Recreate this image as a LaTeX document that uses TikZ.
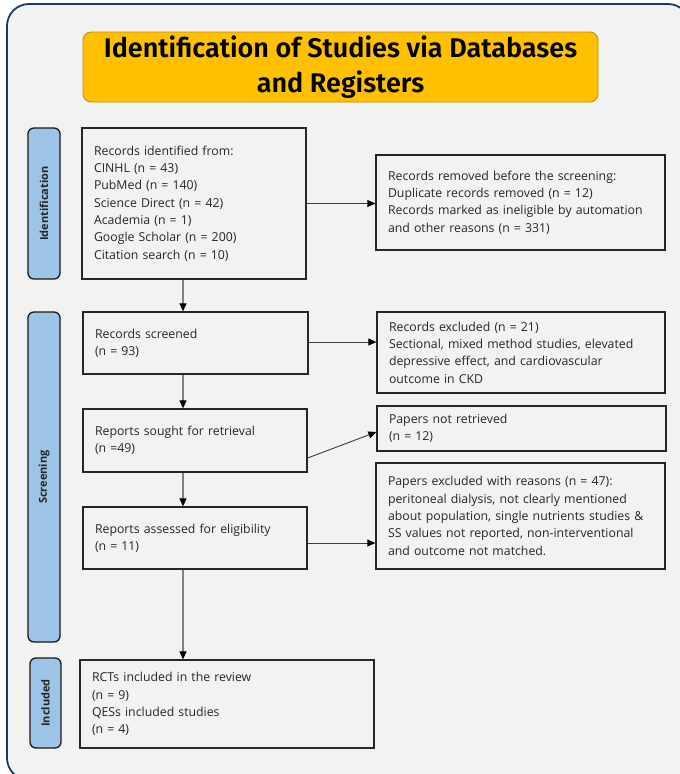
\documentclass[tikz,border=0pt]{standalone}
\usepackage{fontspec}
\setmainfont{Open Sans}
\newfontfamily\titlefont{Fira Sans SemiBold}
\usetikzlibrary{arrows.meta}
\definecolor{frameblue}{HTML}{203864}
\definecolor{bgray}{HTML}{F2F2F2}
\definecolor{gold}{HTML}{FFC000}
\definecolor{goldline}{HTML}{BF9000}
\definecolor{labblue}{HTML}{9DC3E6}
\definecolor{txt}{HTML}{262626}
\begin{document}
\begin{tikzpicture}[x=1pt,y=-1pt,
  box/.style={draw=txt, line width=1.3pt, fill=bgray, rectangle, inner xsep=12pt, inner ysep=0pt,
    align=left, text=txt, font=\fontsize{12.3}{17.3}\selectfont},
  lab/.style={draw=black!90, line width=1.3pt, fill=labblue, rounded corners=6pt, rotate=90,
    font=\bfseries\fontsize{11}{13}\selectfont, text=txt, inner sep=0pt},
  vconn/.style={draw=gray, line width=1.1pt, -{Triangle[length=8pt,width=7pt,color=black]}},
  hconn/.style={draw=txt!90, line width=0.9pt, -{Triangle[length=8pt,width=7pt,color=black]}},
  titlebox/.style={draw=goldline, line width=0.8pt, fill=gold, rounded corners=8pt, align=center,
    font=\titlefont\fontsize{27}{35}\selectfont, text=black}
]
\useasboundingbox (0,0) rectangle (680,774);
\fill[white] (0,0) rectangle (680,774);
\begin{scope}
\clip (0,0) rectangle (680,774);
\draw[frameblue, line width=1.8pt, fill=bgray, rounded corners=22pt] (7,4) rectangle (690,780);
\end{scope}

\node[titlebox, minimum width=515pt, minimum height=70pt] (title) at (340.5,67)
  {\raisebox{-2pt}{Identification of Studies via Databases}\\\raisebox{-2pt}{and Registers}};

\node[lab, minimum width=151pt, minimum height=32pt] (labid) at (44,203.5) {Identification};
\node[lab, minimum width=330pt, minimum height=32pt] (labscr) at (44,477) {Screening};
\node[lab, minimum width=90pt, minimum height=31pt] (labinc) at (45.5,703) {Included};

\node[box, text width=200pt, minimum height=151pt] (id) at (194,203.5)
  {Records identified from:\\CINHL (n = 43)\\PubMed (n = 140)\\Science Direct (n = 42)\\Academia (n = 1)\\Google Scholar (n = 200)\\Citation search (n = 10)};
\node[box, text width=265pt, minimum height=95pt] (rr) at (520.5,202.5)
  {Records removed before the screening:\\Duplicate records removed (n = 12)\\Records marked as ineligible by automation\\and other reasons (n = 331)};
\node[box, text width=201pt, minimum height=62pt] (scr) at (195.5,343)
  {Records screened\\(n = 93)};
\node[box, text width=264pt, minimum height=81pt] (exc) at (521,352.5)
  {Records excluded (n = 21)\\Sectional, mixed method studies, elevated\\depressive effect, and cardiovascular\\outcome in CKD};
\node[box, text width=200pt, minimum height=63pt] (sought) at (195,440.5)
  {Reports sought for retrieval\\(n =49)};
\node[box, text width=265pt, minimum height=45pt] (pnr) at (521.5,428.5)
  {Papers not retrieved\\(n = 12)};
\node[box, text width=200pt, minimum height=62pt] (ass) at (195,538)
  {Reports assessed for eligibility\\(n = 11)};
\node[box, text width=265pt, minimum height=106pt] (pe) at (520.5,516)
  {Papers excluded with reasons (n = 47):\\peritoneal dialysis, not clearly mentioned\\about population, single nutrients studies \&\\SS values not reported, non-interventional\\and outcome not matched.};
\node[box, text width=270pt, minimum height=88pt] (inc) at (227,704)
  {RCTs included in the review\\(n = 9)\\QESs included studies\\(n = 4)};

\coordinate (ax) at (183,0);
\draw[vconn] (id.south -| ax) -- (scr.north -| ax);
\draw[vconn] (scr.south -| ax) -- (sought.north -| ax);
\draw[vconn] (sought.south -| ax) -- (ass.north -| ax);
\draw[vconn] (ass.south -| ax) -- (inc.north -| ax);

\draw[hconn] (id.east) -- (id.east -| rr.west);
\draw[hconn] ([yshift=1pt]scr.east) -- ([yshift=1pt]scr.east -| exc.west);
\draw[hconn] ([yshift=-17.5pt]sought.east) -- ([yshift=-3.5pt]pnr.west);
\draw[hconn] ([yshift=-5pt]ass.east) -- ([yshift=-5pt]ass.east -| pe.west);
\end{tikzpicture}
\end{document}
